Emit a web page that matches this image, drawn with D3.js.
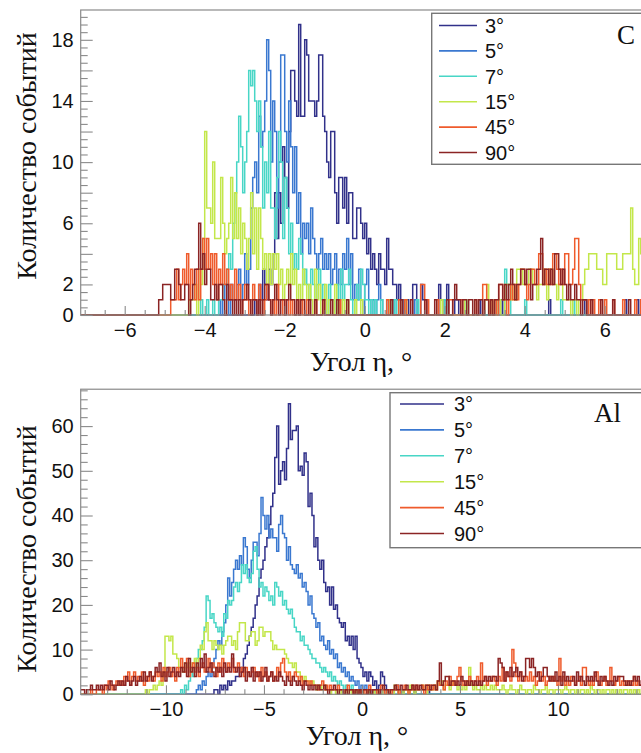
<!DOCTYPE html>
<html>
<head>
<meta charset="utf-8">
<script src="https://cdn.jsdelivr.net/npm/d3@7"></script>
<style>
  body { margin: 0; background: #fff; }
  svg { display: block; }
  .tick-label { font-family: "Liberation Sans", Arial, sans-serif; font-size: 20px; fill: #111; }
  .axis-title { font-family: "Liberation Serif", "Times New Roman", serif; font-size: 28px; fill: #111; }
  .target { font-family: "Liberation Serif", "Times New Roman", serif; font-size: 27px; fill: #111; }
  .legend-label { font-family: "Liberation Sans", Arial, sans-serif; font-size: 20px; fill: #111; }
</style>
</head>
<body>
<svg id="chart" width="641" height="753"></svg>
<script>
// Incidence angles of the beam, one histogram per angle
const angleLabels = ["3°", "5°", "7°", "15°", "45°", "90°"];
const lineColors = ["#31318a", "#3a78d0", "#48d6c6", "#c3e74a", "#ef5b2c", "#8b2424"];

// ---- Carbon target: bins of 0.05°, histogram range [-7.1, 7.1]
const carbonBin = 0.05;
const carbonRange = [-7.1, 7.1];
const carbonYMax = 19.95;
// low edge of the first listed bin of each series
const carbonStart = [-2.75, -3.65, -4.1, -4.4, -4.85, -5.15];
const carbon3 = [
  1,0,2,1,3,2,1,3,2,4, 8,5,8,6,11,9,7,12,16,16, 14,13,19,13,13,18,17,14,14,14,
  13,14,17,17,13,12,10,9,12,12, 8,6,9,9,7,9,6,8,8,5, 5,7,7,6,5,6,4,5,3,4,
  3,2,4,3,3,2,5,3,3,2, 2,1,2,1,0,1,1,0,0,2, 2,0,0,2,1,1,0,0,0,0,
  0,0,2,1,0,1,2,0,0,0, 1,1,0,0,0,0,0,0,0,0, 0,0,1,0,0,0,0,0,0,0,
  0,0,0,1,0,0,0,0,0,0, 0,0,0,0,0,0,0,0,0,0, 0,0,0,0,0,0,0,1,0,0,
  0,0,0,0,0,0,0,0,0,0, 0,0,0,0,0,1,0,0,0,0, 0,0,0,0,0,0,0,0,0,0,
  0,0,0,0,0,1,0,0,0,0, 0,1,0
];
const carbon5 = [
  1,0,1,2,1,0,2,1,1,2, 3,1,2,4,2,3,7,9,10,8, 13,11,12,14,18,16,10,14,12,7,
  10,17,17,12,10,14,11,8,11,6, 8,4,6,5,6,4,7,5,4,3, 4,5,3,4,3,4,2,3,4,2,
  3,2,4,3,5,2,4,1,2,1, 3,1,0,2,3,1,0,1,0,1, 2,1,0,0,1,1,0,1,0,0,
  0,0,1,0,0,0,0,0,1,0
];
const carbon7 = [
  1,0,0,1,0,0,1,0,0,1, 1,2,2,3,4,3,6,8,10,13, 11,8,10,12,16,15,16,14,12,14,
  11,7,10,8,12,7,7,5,9,12, 10,5,9,7,4,6,3,4,3,5, 4,2,3,2,1,3,2,1,2,3,
  1,2,1,0,2,1,1,0,2,1, 3,1,2,2,3,1,0,1,2,1, 3,2,1,1,0,1,0,1,0,0,
  1,0,0,0,1,1,0,1,0,1, 0,0,0,0,0,0,0,0,1,0, 0,0,0,0,0,0,0,0,0,0,
  0,0,1,0,0,0,0,0,0,0, 0,0,1,0,0,0,0,0,0,0, 0,0,0,0,0,0,0,0,1,0,
  0,0,3,2,2,0,0,0,0,0, 0,0,1,0,0,0,0,0,0,0, 0,0,0,0,0,0,0,0,0,0,
  1,0,0,0,0,0,1,0,0,0
];
const carbon15 = [
  1,1,1,2,0,3,2,5,12,7, 7,6,10,5,5,5,9,6,4,5, 6,9,5,8,5,7,4,6,5,3,
  5,8,4,7,3,7,5,3,4,2, 4,2,4,3,4,2,3,1,2,3, 2,4,2,3,1,2,1,3,2,1,
  2,1,0,3,1,2,0,1,2,0, 1,1,0,2,0,1,0,1,0,1, 0,0,0,1,0,0,1,0,0,0,
  0,0,0,0,0,0,0,0,0,0, 1,0,0,0,0,0,0,0,1,0, 0,0,0,0,0,0,0,0,0,0,
  0,0,0,0,0,0,1,0,0,0, 0,0,0,0,0,0,0,0,1,0, 0,0,0,0,0,0,0,0,1,2,
  0,1,0,0,1,1,0,0,2,2, 2,1,2,1,3,3,3,2,2,2, 3,3,2,2,1,2,2,3,2,1,
  3,3,2,2,1,2,2,1,1,1, 1,0,1,1,0,1,1,2,3,3, 4,4,4,4,3,3,3,2,2,4,
  4,4,4,4,3,3,3,4,4,4, 4,7,3,2,2,5,4,3,2,2
];
const carbon45 = [
  1,1,1,3,1,2,3,2,4,1, 3,2,1,3,1,3,5,3,5,3, 4,2,4,1,3,2,4,2,3,1,
  2,1,3,1,2,0,1,2,1,0, 1,2,1,0,2,1,0,1,2,1, 0,1,0,2,1,1,0,1,1,0,
  1,0,0,1,0,1,0,0,1,0, 0,0,1,0,0,0,1,0,0,0, 0,0,0,0,1,0,0,0,0,0,
  0,0,0,0,0,0,0,0,0,0, 0,0,0,0,0,0,0,0,1,0, 0,0,0,0,1,0,0,1,0,0,
  0,0,0,0,0,2,2,0,1,0, 0,0,0,1,0,0,0,0,0,1, 1,0,0,0,0,1,0,0,0,0,
  0,0,1,0,0,0,2,2,1,0, 1,0,1,0,2,2,1,1,0,1, 2,1,2,1,2,3,3,2,1,2,
  3,3,2,2,4,4,2,3,2,3, 2,4,4,3,2,3,2,4,4,2, 2,3,5,5,2,1,1,1,0,1,
  0,1,0,0,1,0,0,1,0,0, 0,1,0,0,0,0,1,0,0,0, 0,0,1,0,0,1
];
const carbon90 = [
  1,1,2,2,2,2,1,1,3,3, 2,1,1,2,2,0,1,2,3,3, 6,3,4,2,3,3,1,1,2,1,
  2,2,1,0,2,1,1,0,1,0, 1,0,1,1,2,1,0,1,1,0, 1,0,1,2,2,1,0,1,2,1,
  0,1,1,0,1,2,1,1,0,1, 0,1,1,0,0,1,0,0,1,0, 0,0,1,0,0,0,1,0,0,1,
  0,0,0,0,1,0,0,0,0,0, 0,0,0,0,0,0,0,0,0,0, 0,0,0,0,0,0,1,0,0,0,
  0,1,0,0,0,0,1,0,0,0, 0,0,0,1,0,0,0,0,1,0, 0,0,0,0,1,0,0,1,2,1,
  1,0,1,1,0,1,1,0,1,0, 1,1,0,1,1,0,1,0,1,1, 2,2,1,2,1,2,3,2,1,2,
  2,3,3,2,3,3,1,2,2,3, 3,5,2,3,3,2,3,2,4,4, 3,2,3,2,1,2,1,1,2,1,
  1,0,1,1,0,0,1,0,0,0, 0,1,0,0,0,0,0,1,0,0, 0,0,0,0,0,1,0,0,0,0,
  0,0,1
];

// ---- Aluminium target: bins of 0.1°, histogram range [-14.35, 14.35]
const alBin = 0.1;
const alRange = [-14.35, 14.35];
const alYMax = 68.25;
const alStart = [-7.55, -8.45, -9.25, -11.05, -14.35, -14.35];
const al3 = [
  1,1,0,2,1,2,1,3,2,3, 3,4,4,6,5,8,9,11,13,15, 17,20,22,26,28,30,33,35,38,42,
  45,53,60,47,50,52,48,55,65,57, 59,59,60,50,51,49,54,52,42,45, 40,33,35,30,28,30,25,23,24,20,
  24,19,20,17,16,15,16,12,13,11, 13,10,13,8,7,6,4,5,3,5, 4,2,3,1,2,5,4,2,1,0,
  0,0,1,2,0,0,1,0,0,0, 0,0,1,0,0,0,0,0,0,1
];
const al5 = [
  1,2,1,3,2,4,5,4,6,8, 10,12,11,14,16,20,26,22,25,28, 30,28,31,29,35,33,28,26,30,34,
  34,31,36,44,40,37,40,35,37,35, 35,32,38,40,36,35,30,33,29,28, 27,29,26,27,24,25,23,20,22,18,
  17,15,16,12,13,11,10,12,9,10, 8,9,6,7,5,6,4,5,3,4, 3,2,3,1,2,1,2,1,0,1,
  1,0,1,0,0,1,0,1,0,0
];
const al7 = [
  1,0,2,1,3,5,4,6,8,10, 10,12,15,22,21,17,18,16,15,14, 15,13,18,17,21,20,21,24,25,23,
  25,29,27,29,26,25,27,32,33,28, 24,25,22,24,23,21,22,20,25,24, 22,23,20,21,19,18,19,17,15,14,
  14,12,13,11,11,10,9,8,8,7, 7,6,5,6,5,4,5,3,4,3, 2,3,2,1,2,1,1,2,0,1,
  1,0,1,0,0,1,0,0,1,0
];
const al15 = [
  1,0,1,1,2,1,2,3,2,5, 13,13,12,13,9,9,8,6,6,5, 7,6,7,5,7,8,6,8,11,10,
  14,16,12,12,10,12,11,10,11,9, 11,12,13,13,11,12,10,14,16,16, 16,12,12,13,14,14,11,12,15,15,
  13,14,14,14,12,10,11,10,10,10, 10,9,8,7,7,6,7,5,5,4, 3,4,3,3,2,3,2,1,2,2,
  1,2,1,1,0,1,1,0,1,0, 1,0,1,0,1,0,0,1,0,0, 1,0,0,1,0,0,1,0,1,0,
  0,1,0,0,1,1,0,2,1,0, 1,0,1,1,0,2,1,0,1,1, 1,2,1,0,2,1,1,2,1,3,
  2,3,1,2,2,1,3,2,2,1, 2,1,2,1,3,6,2,1,2,1, 1,2,1,2,1,1,2,1,2,1,
  1,1,2,1,0,1,2,1,1,0, 1,2,1,1,0,1,1,0,2,1, 1,0,1,1,2,0,1,1,0,1,
  1,1,0,1,2,1,0,1,1,0, 1,0,1,1,0,1,0,2,1,0, 1,1,0,1,0,1,1,0,1,0,
  1,0,1,0,1,1,0,1,0,1, 0,1,0,1
];
const al45 = [
  0,0,0,0,0,1,0,0,1,1, 1,0,2,1,3,2,1,2,3,2, 3,2,4,3,5,2,4,5,3,4,
  3,5,2,4,3,5,4,3,5,4, 5,3,6,4,5,6,4,5,3,6, 5,8,6,5,8,4,6,7,5,6,
  4,6,7,5,6,8,5,7,6,4, 7,5,8,6,5,7,6,8,5,6, 7,5,6,4,6,5,4,5,6,4,
  5,3,6,4,5,3,4,5,3,4, 6,4,7,8,5,4,5,3,4,5, 4,3,4,2,3,3,2,3,2,2,
  2,1,2,3,1,2,1,2,1,1, 1,2,1,1,0,1,2,1,1,0, 1,1,0,1,1,0,1,2,1,1,
  1,0,1,2,1,0,1,1,0,1, 1,2,0,1,1,2,1,0,1,2, 1,2,1,1,2,0,2,1,2,1,
  2,1,3,2,2,1,3,2,4,2, 3,2,4,6,3,2,3,2,4,3, 2,3,4,2,7,3,4,2,3,3,
  4,3,2,4,3,6,3,5,4,3, 10,7,4,3,5,4,3,4,3,5, 3,4,2,3,5,3,4,2,3,4,
  3,4,3,2,8,3,4,2,3,2, 4,3,2,3,4,2,6,6,3,2, 3,2,4,5,3,2,3,4,2,3,
  6,3,2,3,4,2,3,2,3,2, 3,2,4,2,3,2,2
];
const al90 = [
  1,1,0,1,1,2,1,1,2,1, 2,1,2,2,1,3,2,1,2,3, 2,3,2,4,3,2,3,4,2,3,
  4,3,5,3,4,5,3,4,6,5, 7,4,5,3,6,4,5,6,4,5, 4,6,5,7,4,8,5,6,4,7,
  5,8,6,9,5,6,7,5,4,6, 5,6,4,7,5,6,5,9,6,5, 6,4,5,6,3,5,4,6,3,5,
  4,5,3,4,6,3,4,5,3,4, 3,5,4,3,2,4,3,2,4,3, 2,3,2,1,3,2,1,2,1,2,
  1,2,1,1,2,1,0,1,1,2, 1,0,1,1,0,1,0,1,1,0, 1,0,1,0,1,1,0,1,0,1,
  1,1,0,1,2,1,1,0,1,1, 2,1,1,2,1,1,2,1,1,2, 1,2,1,2,1,1,2,2,1,2,
  2,1,3,7,2,3,4,4,2,3, 3,2,3,2,4,3,2,3,2,3, 2,3,2,3,2,3,4,3,4,3,
  4,4,3,8,7,6,3,5,4,6, 4,5,6,4,5,3,4,8,8,6, 8,6,4,5,3,4,6,6,4,3,
  4,3,5,3,4,2,5,3,4,3, 3,4,2,5,3,4,3,2,4,3, 4,3,5,3,2,4,3,4,3,2,
  3,2,4,3,4,4,4,3,2,3, 2,3,4,3,4,2,3
];

// y ticks that carry a number
const carbonYLabels = [0, 2, 6, 10, 14, 18];
const carbonXLabels = [-6, -4, -2, 0, 2, 4, 6];
const alYLabels = [0, 10, 20, 30, 40, 50, 60];
const alXLabels = [-10, -5, 0, 5, 10];

const svg = d3.select("#chart");
const frameGrey = "#8a8a8a";
const fmt = v => (v < 0 ? "\u2212" + Math.abs(v) : String(v));

function drawPanel(p) {
  const x = d3.scaleLinear()
    .domain(p.range)
    .range([p.left, p.left + (p.range[1] - p.range[0]) * p.pxPerX]);
  const y = d3.scaleLinear().domain([0, p.yMax]).range([p.bottom, p.top]);
  const g = svg.append("g");

  const clipId = "clip-" + p.id;
  svg.append("clipPath").attr("id", clipId)
    .append("rect")
    .attr("x", x.range()[0]).attr("y", p.top - 2)
    .attr("width", x.range()[1] - x.range()[0])
    .attr("height", p.bottom - p.top + 4);

  // histograms, first angle underneath
  const nBins = Math.round((p.range[1] - p.range[0]) / p.bin);
  const line = d3.line()
    .x(d => x(d[0])).y(d => y(d[1]))
    .curve(d3.curveStepAfter);
  const hg = g.append("g").attr("clip-path", `url(#${clipId})`);
  p.series.forEach((counts, k) => {
    const vals = new Array(nBins).fill(0);
    const off = Math.round((p.starts[k] - p.range[0]) / p.bin);
    counts.forEach((c, i) => { if (off + i >= 0 && off + i < nBins) vals[off + i] = c; });
    const pts = vals.map((v, i) => [p.range[0] + i * p.bin, v]);
    pts.push([p.range[1], vals[nBins - 1]]);
    hg.append("path")
      .attr("d", line(pts))
      .attr("fill", "none")
      .attr("stroke", lineColors[k])
      .attr("stroke-width", 1.5)
      .attr("stroke-linejoin", "miter");
  });

  // frame
  g.append("rect")
    .attr("x", x.range()[0]).attr("y", p.top)
    .attr("width", x.range()[1] - x.range()[0])
    .attr("height", p.bottom - p.top)
    .attr("fill", "none").attr("stroke", frameGrey).attr("stroke-width", 1.2);

  // y ticks
  const yMinor = d3.range(0, p.yMax, p.yMinorStep);
  const yMajor = yMinor.filter(v => Math.abs(v / p.yMajorStep - Math.round(v / p.yMajorStep)) < 1e-6);
  const yMinorOnly = yMinor.filter(v => !yMajor.includes(v));
  [[yMinorOnly, 7], [yMajor, 12]].forEach(([vals, len]) => {
    const ax = g.append("g").attr("transform", `translate(${x.range()[0]},0)`)
      .call(d3.axisRight(y).tickValues(vals).tickSize(len).tickFormat(""));
    ax.select(".domain").remove();
    ax.selectAll("line").attr("stroke", frameGrey).attr("stroke-width", 1.1);
  });
  const yl = g.append("g").attr("transform", `translate(${x.range()[0] - 4},0)`)
    .call(d3.axisLeft(y).tickValues(p.yLabels).tickSize(0).tickFormat(fmt));
  yl.select(".domain").remove();
  yl.selectAll("text").attr("class", "tick-label").attr("fill", null)
    .attr("font-size", null).attr("font-family", null);

  // x ticks
  const first = Math.ceil(p.range[0] / p.xMinorStep) * p.xMinorStep;
  const xMinor = d3.range(first, p.range[1], p.xMinorStep).map(v => +v.toFixed(4));
  const xMajor = xMinor.filter(v => Math.abs(v / p.xMajorStep - Math.round(v / p.xMajorStep)) < 1e-6);
  const xMinorOnly = xMinor.filter(v => !xMajor.includes(v));
  [[xMinorOnly, 5], [xMajor, 9]].forEach(([vals, len]) => {
    const ax = g.append("g").attr("transform", `translate(0,${p.bottom})`)
      .call(d3.axisTop(x).tickValues(vals).tickSize(len).tickFormat(""));
    ax.select(".domain").remove();
    ax.selectAll("line").attr("stroke", frameGrey).attr("stroke-width", 1.1);
  });
  const xl = g.append("g").attr("transform", `translate(0,${p.bottom})`)
    .call(d3.axisBottom(x).tickValues(p.xLabels).tickSize(0).tickPadding(7).tickFormat(fmt));
  xl.select(".domain").remove();
  xl.selectAll("text").attr("class", "tick-label").attr("fill", null)
    .attr("font-size", null).attr("font-family", null)
    .attr("dy", null).attr("y", 22);

  // axis titles
  g.append("text").attr("class", "axis-title")
    .attr("text-anchor", "middle")
    .attr("transform", `translate(${p.yTitleX},${p.yTitleY}) rotate(-90)`)
    .text("Количество событий");
  g.append("text").attr("class", "axis-title")
    .attr("text-anchor", "middle")
    .attr("x", p.xTitleX).attr("y", p.xTitleY)
    .text("Угол η, °");

  // legend
  const L = p.legend;
  const lg = g.append("g");
  lg.append("rect")
    .attr("x", L.x).attr("y", L.y).attr("width", 700 - L.x).attr("height", L.h)
    .attr("fill", "#fff").attr("stroke", "#777").attr("stroke-width", 1.4);
  angleLabels.forEach((lab, k) => {
    const cy = L.row0 + k * L.rowStep;
    lg.append("line")
      .attr("x1", L.lineX1).attr("x2", L.lineX2).attr("y1", cy).attr("y2", cy)
      .attr("stroke", lineColors[k]).attr("stroke-width", 1.6);
    lg.append("text").attr("class", "legend-label")
      .attr("x", L.textX).attr("y", cy).attr("dy", "0.36em")
      .text(lab);
  });
  lg.append("text").attr("class", "target")
    .attr("x", L.tagX).attr("y", L.tagY).text(p.tag);
}

drawPanel({
  id: "c", tag: "C",
  range: carbonRange, bin: carbonBin, yMax: carbonYMax,
  starts: carbonStart,
  series: [carbon3, carbon5, carbon7, carbon15, carbon45, carbon90],
  left: 80.7, pxPerX: 40, top: 10, bottom: 315,
  yMinorStep: 0.5, yMajorStep: 2, yLabels: carbonYLabels,
  xMinorStep: 0.5, xMajorStep: 2, xLabels: carbonXLabels,
  yTitleX: 36, yTitleY: 156, xTitleX: 361, xTitleY: 371,
  legend: { x: 431.7, y: 13.3, h: 151, lineX1: 439, lineX2: 477, textX: 485,
            row0: 25.5, rowStep: 25.4, tagX: 617, tagY: 44 }
});

drawPanel({
  id: "al", tag: "Al",
  range: alRange, bin: alBin, yMax: alYMax,
  starts: alStart,
  series: [al3, al5, al7, al15, al45, al90],
  left: 80.7, pxPerX: 19.6, top: 694.3 - 68.25 * 4.47, bottom: 694.3,
  yMinorStep: 2, yMajorStep: 10, yLabels: alYLabels,
  xMinorStep: 1, xMajorStep: 5, xLabels: alXLabels,
  yTitleX: 36, yTitleY: 549, xTitleX: 357, xTitleY: 745,
  legend: { x: 390, y: 392.7, h: 155, lineX1: 400, lineX2: 444, textX: 454,
            row0: 404, rowStep: 25.9, tagX: 594, tagY: 422 }
});
</script>
</body>
</html>
